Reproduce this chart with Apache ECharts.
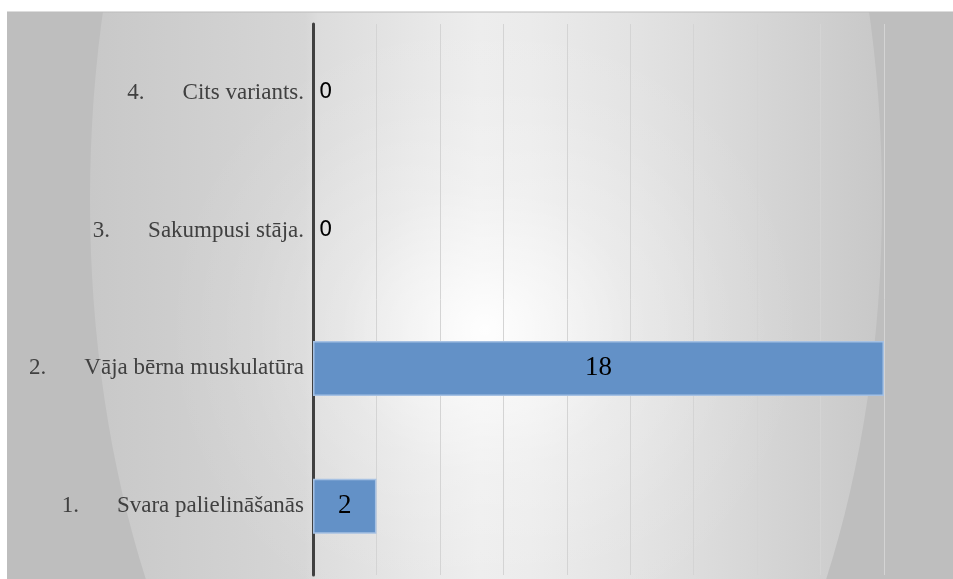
<!DOCTYPE html>
<html><head><meta charset="utf-8">
<script src="https://cdn.jsdelivr.net/npm/echarts@6/dist/echarts.min.js"></script>
<style>html,body{margin:0;padding:0;background:#fff}#c{width:953px;height:579px}</style>
</head><body><div id="c"></div>
<script>
const categories = ['1.|Svara palielināšanās', '2.|Vāja bērna muskulatūra', '3.|Sakumpusi stāja.', '4.|Cits variants.'];
const values = [2, 18, 0, 0];
const axisMax = 18;
const axisStep = 2;

const G = {left: 313, top: 24, right: 884, bottom: 575};
const E = {cx: 486, cy: 200, rx: 396, ry: 740};
const ex = x => (x - (E.cx - E.rx)) / (2 * E.rx);

const chart = echarts.init(document.getElementById('c'));
chart.setOption({
  animation: false,
  graphic: [{
    type: 'rect', z: -10, silent: true,
    shape: {x: 7, y: 12, width: 946, height: 567},
    style: {fill: '#bebebe'}
  }, {
    type: 'ellipse', z: -9, silent: true,
    shape: {cx: E.cx, cy: E.cy, rx: E.rx, ry: E.ry},
    style: {
      fill: new echarts.graphic.LinearGradient(E.cx - E.rx, 0, E.cx + E.rx, 0, [
        {offset: 0, color: '#c8c8c8'},
        {offset: ex(200), color: '#cfcfcf'},
        {offset: ex(305), color: '#d6d6d6'},
        {offset: ex(318), color: '#dcdcdc'},
        {offset: ex(375), color: '#e2e2e2'},
        {offset: ex(439), color: '#e9e9e9'},
        {offset: ex(480), color: '#ededed'},
        {offset: ex(530), color: '#ebebeb'},
        {offset: ex(566), color: '#e8e8e8'},
        {offset: ex(630), color: '#e3e3e3'},
        {offset: ex(693), color: '#dddddd'},
        {offset: ex(757), color: '#d6d6d6'},
        {offset: ex(821), color: '#cfcfcf'},
        {offset: 1, color: '#c8c8c8'}
      ], true)
    }
  }, {
    type: 'ellipse', z: -9, silent: true,
    shape: {cx: 485, cy: 330, rx: 320, ry: 320},
    style: {
      fill: new echarts.graphic.RadialGradient(485, 330, 320, [
        {offset: 0, color: 'rgba(255,255,255,0.95)'},
        {offset: 0.2, color: 'rgba(255,255,255,0.6)'},
        {offset: 0.45, color: 'rgba(255,255,255,0.25)'},
        {offset: 0.75, color: 'rgba(255,255,255,0.07)'},
        {offset: 1, color: 'rgba(255,255,255,0)'}
      ], true)
    }
  }, {
    type: 'rect', z: -8, silent: true,
    shape: {x: 0, y: 0, width: 953, height: 12},
    style: {fill: '#ffffff'}
  }, {
    type: 'rect', z: -8, silent: true,
    shape: {x: 7, y: 11.5, width: 946, height: 1},
    style: {fill: '#bcbcbc'}
  }],
  grid: {left: G.left, right: 953 - G.right, top: G.top, bottom: 579 - G.bottom, containLabel: false},
  xAxis: {
    type: 'value', min: 0, max: axisMax, interval: axisStep,
    axisLabel: {show: false}, axisLine: {show: false}, axisTick: {show: false},
    splitLine: {show: true, lineStyle: {color: '#d4d4d4', width: 1}}
  },
  yAxis: {
    type: 'category', data: categories,
    axisLine: {show: true, lineStyle: {color: '#404040', width: 3}},
    axisTick: {show: false},
    axisLabel: {
      margin: 9,
      formatter: function (v) {
        const p = v.split('|');
        return '{n|' + p[0] + '}{t|' + p[1] + '}';
      },
      rich: {
        n: {fontFamily: 'Liberation Serif', fontSize: 23, color: '#404040', padding: [0, 38, 0, 0]},
        t: {fontFamily: 'Liberation Serif', fontSize: 23, color: '#404040'}
      }
    }
  },
  series: [{
    type: 'bar',
    data: values.map(v => v === 0 ? {
      value: v,
      itemStyle: {borderWidth: 0, color: 'rgba(0,0,0,0)'},
      label: {position: 'right', distance: 6}
    } : v),
    barWidth: 55,
    itemStyle: {color: '#6391c7', borderColor: '#a6c1e3', borderWidth: 1.5},
    label: {
      show: true, position: 'inside',
      formatter: p => p.value === 0 ? '{z|0}' : '{v|' + p.value + '}',
      rich: {
        z: {fontFamily: 'DejaVu Sans', fontSize: 21, color: '#000'},
        v: {fontFamily: 'Liberation Serif', fontSize: 27, color: '#000'}
      }
    }
  }]
});
</script></body></html>
